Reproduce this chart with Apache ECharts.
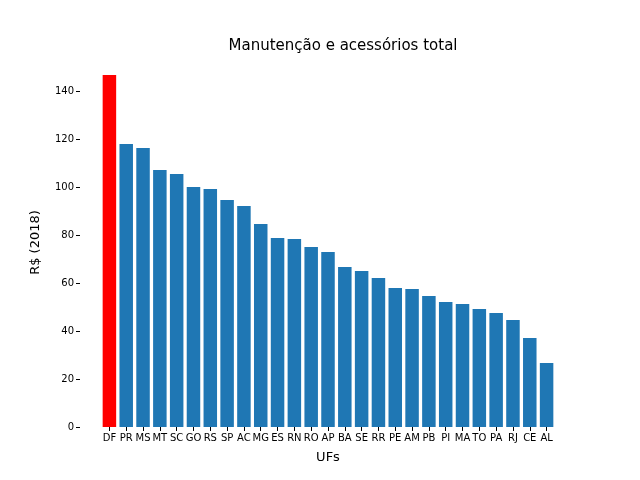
<!DOCTYPE html><html><head><meta charset="utf-8"><script src="https://cdn.jsdelivr.net/npm/echarts@6/dist/echarts.min.js"></script></head><body style="margin:0"><div id="c" style="width:640px;height:480px"></div><script>
const categories=["DF","PR","MS","MT","SC","GO","RS","SP","AC","MG","ES","RN","RO","AP","BA","SE","RR","PE","AM","PB","PI","MA","TO","PA","RJ","CE","AL"];
const values=[146.7,117.9,116.3,107.1,105.4,100,99.2,94.6,92.1,84.6,78.8,78.3,75,72.9,66.7,65,62.1,57.9,57.5,54.6,52.1,51.3,49.2,47.5,44.6,37.1,26.7];
const highlight="DF";
const ch=echarts.init(document.getElementById('c'));
ch.setOption({animation:false,
title:{text:"Manutenção e acessórios total",left:338,top:34,textAlign:'center',textStyle:{fontFamily:'DejaVu Sans',fontSize:15,fontWeight:'normal',color:'#000'}},
grid:{left:101,right:85,top:58,bottom:53},
xAxis:{type:'category',data:categories,name:'UFs',nameLocation:'middle',nameGap:24,nameTextStyle:{fontFamily:'DejaVu Sans',fontSize:13,color:'#000'},axisLine:{show:false},axisTick:{show:true,alignWithLabel:true,length:4,lineStyle:{color:'#000'}},axisLabel:{fontFamily:'DejaVu Sans',fontSize:10,color:'#000',interval:0,margin:6}},
yAxis:{type:'value',min:0,max:153.75,interval:20,offset:21,name:'R$ (2018)',nameLocation:'middle',nameGap:38,nameTextStyle:{fontFamily:'DejaVu Sans',fontSize:13,color:'#000'},splitLine:{show:false},axisLine:{show:false},axisTick:{show:true,length:4,lineStyle:{color:'#000'}},axisLabel:{fontFamily:'DejaVu Sans',fontSize:10,color:'#000',showMaxLabel:false,margin:6}},
series:[{type:'bar',barWidth:13.5,data:values.map((v,i)=>({value:v,itemStyle:{color:categories[i]===highlight?'#ff0000':'#1f77b4'}}))}]});
</script></body></html>
